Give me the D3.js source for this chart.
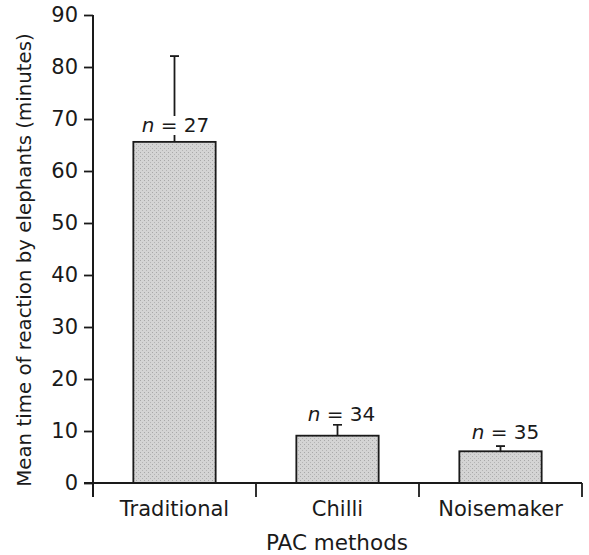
<!DOCTYPE html>
<html><head><meta charset="utf-8">
<script src="https://cdn.jsdelivr.net/npm/d3@7"></script>
<style>body{margin:0;background:#fff}svg{display:block}text{font-family:"DejaVu Sans",sans-serif;fill:#1a1a1a}</style>
</head><body>
<svg id="c" width="589" height="555"></svg>
<script>
const categories = ["Traditional", "Chilli", "Noisemaker"];
const means = [65.6, 9.1, 6.1];
const errTops = [82.1, 11.2, 7.1];
const nLabels = ["27", "34", "35"];
const yTicks = [0, 10, 20, 30, 40, 50, 60, 70, 80, 90];

const svg = d3.select("#c");
const x = d3.scaleBand().domain(categories).range([93, 582]).padding(0);
const y = d3.scaleLinear().domain([0, 90]).range([483, 15]);
const bw = x.bandwidth() * 0.505;
const ink = "#1a1a1a";

const defs = svg.append("defs");
const pat = defs.append("pattern").attr("id","stip").attr("width",4).attr("height",4).attr("patternUnits","userSpaceOnUse");
pat.append("rect").attr("width",4).attr("height",4).attr("fill","#d4d4d4");
pat.append("rect").attr("x",0).attr("y",0).attr("width",1).attr("height",1).attr("fill","#a8a8a8");
pat.append("rect").attr("x",2).attr("y",2).attr("width",1).attr("height",1).attr("fill","#b4b4b4");

// bars
svg.selectAll("rect.bar").data(categories).join("rect")
  .attr("class","bar")
  .attr("x", d => x(d) + (x.bandwidth() - bw) / 2)
  .attr("y", (d,i) => y(means[i]))
  .attr("width", bw)
  .attr("height", (d,i) => y(0) - y(means[i]))
  .attr("fill", "url(#stip)")
  .attr("stroke", ink).attr("stroke-width", 1.8);

// error bars
const cx = d => x(d) + x.bandwidth() / 2;
svg.selectAll("line.err").data(categories).join("line")
  .attr("x1", cx).attr("x2", cx)
  .attr("y1", (d,i) => y(means[i])).attr("y2", (d,i) => y(errTops[i]))
  .attr("stroke", ink).attr("stroke-width", 1.8);
svg.selectAll("line.cap").data(categories).join("line")
  .attr("x1", d => cx(d) - 4.5).attr("x2", d => cx(d) + 4.5)
  .attr("y1", (d,i) => y(errTops[i])).attr("y2", (d,i) => y(errTops[i]))
  .attr("stroke", ink).attr("stroke-width", 1.8);

// n labels
const nOff = [1, 4, 5];
const nBase = [132, 421, 439];
categories.forEach((c, i) => {
  const g = svg.append("g");
  const bg = g.append("rect").attr("fill", "#fff");
  const t = g.append("text")
    .attr("x", cx(c) + nOff[i])
    .attr("y", nBase[i])
    .attr("text-anchor", "middle")
    .attr("font-size", 20);
  t.append("tspan").attr("font-style", "italic").text("n");
  t.append("tspan").text(" = " + nLabels[i]);
  const bb = t.node().getBBox();
  bg.attr("x", bb.x).attr("y", bb.y + 3).attr("width", bb.width).attr("height", bb.height - 5);
});

// y axis
const yAxis = svg.append("g").attr("transform", "translate(93,0)")
  .call(d3.axisLeft(y).tickValues(yTicks).tickSize(9).tickPadding(6));
yAxis.select(".domain").remove();
yAxis.selectAll("line").attr("stroke", ink).attr("stroke-width", 1.8);
yAxis.selectAll("text").attr("font-size", 21).attr("font-family", "DejaVu Sans").attr("fill", ink);
svg.append("line").attr("x1", 93).attr("x2", 93).attr("y1", y(90)).attr("y2", 497)
  .attr("stroke", ink).attr("stroke-width", 2);

// x axis
svg.append("line").attr("x1", 84).attr("x2", 582).attr("y1", y(0)).attr("y2", y(0))
  .attr("stroke", ink).attr("stroke-width", 2);
const bounds = categories.map(c => x(c)).concat([x.range()[1]]);
svg.selectAll("line.xt").data(bounds).join("line")
  .attr("x1", d => d).attr("x2", d => d).attr("y1", y(0)).attr("y2", 497)
  .attr("stroke", ink).attr("stroke-width", 1.8);
const xAxis = svg.append("g").attr("transform", `translate(0,${y(0)})`)
  .call(d3.axisBottom(x).tickSize(0).tickPadding(18));
xAxis.select(".domain").remove();
xAxis.selectAll("text").attr("font-size", 21).attr("font-family", "DejaVu Sans").attr("fill", ink);

// axis titles
svg.append("text").attr("x", 337).attr("y", 550).attr("text-anchor", "middle")
  .attr("font-size", 21.5).text("PAC methods");
svg.append("text").attr("transform", "translate(31,260) rotate(-90)").attr("text-anchor", "middle")
  .attr("font-size", 19.8).text("Mean time of reaction by elephants (minutes)");
</script>
</body></html>
